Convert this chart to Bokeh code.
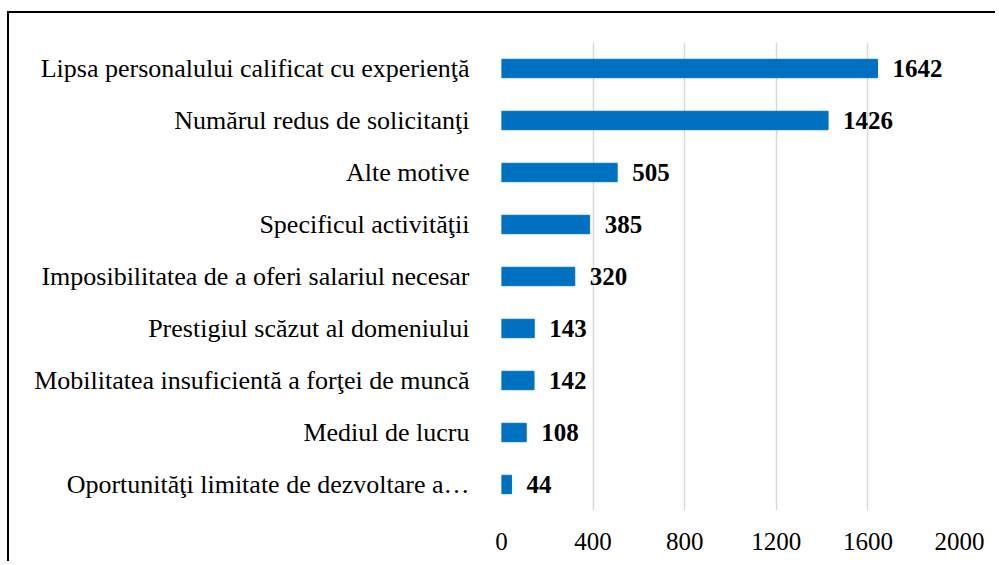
from bokeh.plotting import figure
from bokeh.models import ColumnDataSource, FactorRange, Range1d, FixedTicker, LabelSet
from bokeh.embed import file_html
from bokeh.resources import INLINE

categories = [
    "Lipsa personalului calificat cu experienţă",
    "Numărul redus de solicitanţi",
    "Alte motive",
    "Specificul activităţii",
    "Imposibilitatea de a oferi salariul necesar",
    "Prestigiul scăzut al domeniului",
    "Mobilitatea insuficientă a forţei de muncă",
    "Mediul de lucru",
    "Oportunităţi limitate de dezvoltare a…",
]
values = [1642, 1426, 505, 385, 320, 143, 142, 108, 44]
x_ticks = [0, 400, 800, 1200, 1600, 2000]

src = ColumnDataSource(dict(cat=categories, val=values, lbl=[str(v) for v in values]))

p = figure(
    width=988, height=550,
    y_range=FactorRange(*reversed(categories)),
    x_range=Range1d(0, 2000),
    output_backend="svg", toolbar_location=None,
    min_border_left=492, min_border_right=38, min_border_top=29, min_border_bottom=53,
)
p.styles = {"border-left": "2px solid black", "border-top": "2px solid black",
            "margin-top": "11px", "margin-left": "7px"}

p.hbar(y="cat", right="val", left=0, height=0.355, source=src, color="#0070C0")

labels = LabelSet(x="val", y="cat", text="lbl", source=src, x_offset=15,
                  text_align="left", text_baseline="middle",
                  text_font="Liberation Serif", text_font_style="bold",
                  text_font_size="25px", text_color="black")
p.add_layout(labels)

p.outline_line_color = None
p.ygrid.grid_line_color = None
p.xgrid.grid_line_color = "#d9d9d9"
p.xgrid.grid_line_width = 1.5
p.xaxis.ticker = FixedTicker(ticks=x_ticks)
p.xaxis.axis_line_color = None
p.xaxis.major_tick_line_color = None
p.xaxis.minor_tick_line_color = None
p.xaxis.major_label_standoff = 16
p.xaxis.major_label_text_font = "Liberation Serif"
p.xaxis.major_label_text_font_size = "25px"
p.xaxis.major_label_text_color = "black"

p.yaxis.axis_line_color = None
p.yaxis.major_tick_line_color = None
p.yaxis.minor_tick_line_color = None
p.yaxis.major_label_standoff = 26
p.yaxis.major_label_text_font = "Liberation Serif"
p.yaxis.major_label_text_font_size = "26px"
p.yaxis.major_label_text_color = "black"

open("out.html", "w").write(file_html(p, INLINE))
